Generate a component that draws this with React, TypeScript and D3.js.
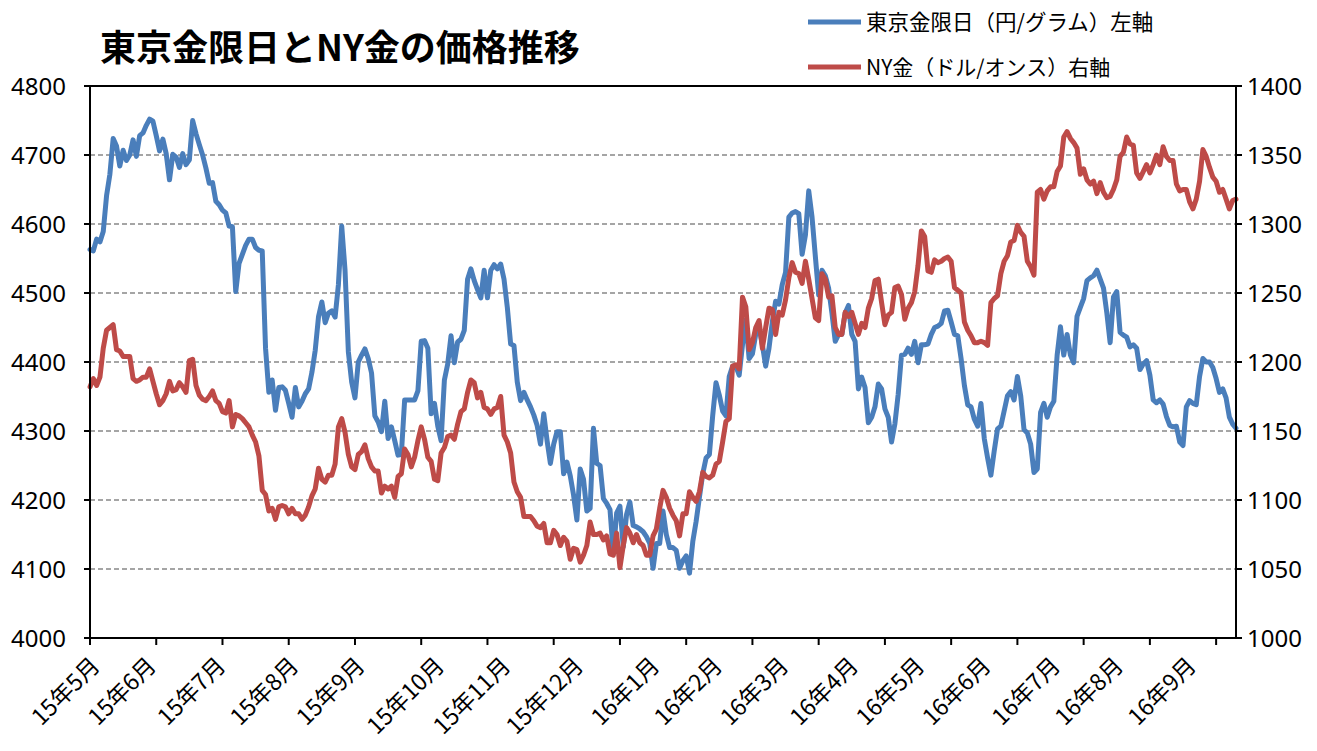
import * as d3 from "d3";

// 月ラベル（各月の最初の営業日のインデックス）
const monthLabels = [
  "15年5月", "15年6月", "15年7月", "15年8月", "15年9月", "15年10月", "15年11月", "15年12月",
  "16年1月", "16年2月", "16年3月", "16年4月", "16年5月", "16年6月", "16年7月", "16年8月", "16年9月",
];
const monthStartIdx = [0, 17, 38, 60, 80, 104, 124, 146, 169, 188, 208, 229, 249, 269, 290, 309, 331];

// 東京金限日（円/グラム） daily
const tokyoGold = [
  4563, 4561, 4578, 4574, 4589, 4641, 4672, 4724, 4713, 4684, 4707, 4692, 4700, 4722, 4698, 4728, 4732, 4743, 4752, 4749,
  4728, 4706, 4723, 4702, 4664, 4701, 4697, 4682, 4702, 4686, 4693, 4750, 4731, 4715, 4700, 4681, 4659, 4660, 4633, 4628,
  4620, 4616, 4597, 4596, 4502, 4543, 4556, 4569, 4578, 4578, 4566, 4562, 4561, 4420, 4356, 4374, 4330, 4363, 4364,
  4359, 4340, 4320, 4363, 4335, 4343, 4354, 4361, 4385, 4417, 4466, 4487, 4457, 4471, 4474, 4465, 4512, 4597, 4533, 4415, 4371,
  4348, 4400, 4410, 4419, 4405, 4384, 4322, 4313, 4299, 4343, 4289, 4306, 4286, 4265, 4266, 4345, 4345, 4345, 4345, 4358,
  4430, 4431, 4420, 4325, 4340, 4307, 4286, 4374, 4397, 4438, 4399, 4429, 4433, 4446, 4520, 4535, 4518,
  4505, 4493, 4533, 4493, 4533, 4541, 4535, 4542, 4520, 4479, 4426, 4424, 4371, 4344, 4356, 4345, 4335, 4323, 4308, 4281, 4325, 4286, 4253,
  4281, 4299, 4299, 4238, 4255, 4235, 4207, 4171, 4245, 4230, 4184, 4188, 4304, 4253, 4250, 4202, 4195, 4186, 4122, 4181,
  4191, 4132, 4179, 4197, 4163, 4161, 4158, 4154, 4147, 4137, 4101, 4137, 4137,
  4184, 4150,
  4131, 4131, 4127, 4101, 4112, 4119, 4094, 4140, 4169, 4204, 4238, 4261, 4266, 4322, 4370, 4352, 4329, 4322, 4379, 4394,
  4394, 4381, 4425, 4461, 4405,
  4412, 4440, 4451, 4425, 4394, 4420, 4458, 4488, 4484, 4512, 4530, 4610, 4616, 4618, 4615, 4556, 4584, 4648, 4610, 4553,
  4497, 4533, 4525, 4507, 4471, 4430, 4440, 4440, 4471, 4482, 4440, 4430, 4361,
  4378, 4363, 4312, 4320, 4335, 4368, 4361, 4332, 4320, 4284, 4310, 4353, 4410, 4411, 4420, 4411, 4430, 4399, 4425, 4425,
  4426, 4440, 4450, 4452, 4456, 4474, 4475, 4458,
  4440, 4438, 4405, 4366, 4338, 4335, 4317, 4307, 4340, 4289, 4261, 4236, 4271, 4303, 4307, 4329, 4351, 4357, 4345, 4379,
  4351, 4302, 4297, 4281, 4240, 4245, 4327, 4340, 4320, 4335,
  4343, 4410, 4451, 4410, 4440, 4410, 4399, 4466, 4479, 4492, 4518, 4522, 4525, 4533, 4520, 4507, 4471, 4428, 4494, 4502,
  4443, 4439, 4436, 4422, 4425, 4420, 4389, 4397, 4402, 4381, 4345, 4341, 4345, 4339, 4321, 4308, 4306, 4307, 4284, 4279,
  4335, 4344, 4340, 4338, 4379, 4405, 4400, 4400, 4392, 4376, 4356, 4361, 4348, 4320, 4310, 4304,
];

// NY金（ドル/オンス）
const nyGold = [
  1182, 1188, 1183, 1189, 1210, 1223, 1225, 1227, 1209, 1208, 1204, 1204, 1204, 1188, 1186, 1187, 1189, 1189, 1195, 1186,
  1177, 1169, 1172, 1177, 1186, 1179, 1180, 1185, 1182, 1178, 1201, 1202, 1183, 1176, 1173, 1172, 1175, 1179, 1172, 1170,
  1164, 1163, 1172, 1153, 1162, 1161, 1159, 1156, 1153, 1147, 1142, 1132, 1107, 1104, 1092, 1094, 1086, 1095, 1096,
  1095, 1090, 1094, 1090, 1090, 1086, 1089, 1095, 1103, 1108, 1123, 1115, 1113, 1118, 1118, 1126, 1153, 1159, 1149, 1133, 1124,
  1122, 1133, 1135, 1140, 1130, 1124, 1121, 1121, 1105, 1110, 1108, 1110, 1102, 1117, 1119, 1137, 1133, 1124, 1131, 1143,
  1153, 1144, 1131, 1128, 1115, 1114, 1134, 1138, 1146, 1147, 1144, 1155, 1164, 1166, 1178, 1187, 1185,
  1174, 1178, 1167, 1166, 1162, 1166, 1167, 1175, 1147, 1142, 1134, 1113, 1106, 1102, 1088, 1088, 1088, 1085, 1081, 1080, 1083, 1069, 1069,
  1078, 1075, 1067, 1073, 1070, 1057, 1065, 1064, 1055, 1060, 1067, 1084, 1075, 1075, 1076, 1071, 1074, 1061, 1060, 1076,
  1051, 1067, 1080, 1076, 1069, 1075, 1069, 1067, 1060, 1060, 1074, 1079, 1094,
  1107, 1102,
  1094, 1089, 1085, 1074, 1090, 1090, 1106, 1102, 1099, 1106, 1120, 1117, 1116, 1118, 1126, 1128, 1142, 1157, 1159, 1197,
  1198, 1195, 1247, 1240, 1209,
  1214, 1225, 1230, 1210, 1225, 1239, 1238, 1220, 1236, 1234, 1245, 1261, 1272, 1265, 1264, 1257, 1273, 1260, 1246, 1232,
  1230, 1264, 1260, 1247, 1248, 1225, 1220, 1220, 1236, 1233, 1236, 1228, 1220,
  1228, 1225, 1239, 1246, 1259, 1260, 1243, 1227, 1234, 1236, 1254, 1255, 1249, 1231, 1239, 1243, 1251, 1270, 1295, 1291,
  1266, 1265, 1274, 1272, 1273, 1275, 1276, 1273,
  1254, 1252, 1250, 1229, 1223, 1219, 1214, 1214, 1215, 1214, 1212, 1243, 1246, 1248, 1264, 1273, 1277, 1287, 1288, 1299,
  1294, 1291, 1273, 1269, 1263, 1323, 1325, 1318, 1324, 1327,
  1327, 1338, 1342, 1363, 1367, 1362, 1359, 1355, 1336, 1340, 1332, 1329, 1331, 1322, 1330, 1323, 1319, 1320, 1325, 1332,
  1349, 1352, 1363, 1358, 1357, 1337, 1333, 1338, 1343, 1337, 1343, 1350, 1343, 1356, 1349, 1346, 1346, 1329, 1324, 1325,
  1325, 1316, 1311, 1318, 1331, 1354, 1349, 1341, 1334, 1331, 1323, 1325, 1318, 1311, 1317, 1318,
];

const leftTicks = [4000, 4100, 4200, 4300, 4400, 4500, 4600, 4700, 4800];
const rightTicks = [1000, 1050, 1100, 1150, 1200, 1250, 1300, 1350, 1400];
const tickEvery = 20; // 目盛線の間隔（営業日）

const BLUE = "#4a7ebb";
const RED = "#be4b48";
const JP = "'Noto Sans CJK JP', 'Noto Sans', sans-serif";
const NUM = "'Noto Sans', sans-serif";

export default function App() {
  const width = 1317;
  const height = 751;
  const plot = { left: 90, right: 1236, top: 86, bottom: 638 };

  const n = tokyoGold.length;
  const x = d3.scaleLinear().domain([0, n - 1]).range([plot.left, plot.right]);
  const yL = d3.scaleLinear().domain([4000, 4800]).range([plot.bottom, plot.top]);
  const yR = d3.scaleLinear().domain([1000, 1400]).range([plot.bottom, plot.top]);

  const lineL = d3.line<number>().x((_, i) => x(i)).y(d => yL(d));
  const lineR = d3.line<number>().x((_, i) => x(i)).y(d => yR(d));

  const xTicks = d3.range(0, n, tickEvery);

  return (
    <svg width={width} height={height} style={{ position: "absolute", left: 0, top: 0, background: "#fff" }}>
      {/* title */}
      <text x={100} y={61} fontFamily={JP} fontWeight="bold" fontSize={36} fill="#000">
        東京金限日とNY金の価格推移
      </text>

      {/* legend */}
      <line x1={808} x2={861} y1={22} y2={22} stroke={BLUE} strokeWidth={5} />
      <text x={866} y={30} fontFamily={JP} fontSize={21.5} fill="#000">東京金限日（円/グラム）左軸</text>
      <line x1={808} x2={861} y1={67} y2={67} stroke={RED} strokeWidth={5} />
      <text x={866} y={75} fontFamily={JP} fontSize={21} fill="#000">NY金（ドル/オンス）右軸</text>

      {/* gridlines */}
      {leftTicks.slice(1, -1).map(t => (
        <line key={t} x1={plot.left} x2={plot.right} y1={yL(t)} y2={yL(t)}
          stroke="#888" strokeWidth={1.5} strokeDasharray="5,3" />
      ))}

      {/* series */}
      <path d={lineL(tokyoGold) || ""} fill="none" stroke={BLUE} strokeWidth={5} strokeLinejoin="round" strokeLinecap="round" />
      <path d={lineR(nyGold) || ""} fill="none" stroke={RED} strokeWidth={5} strokeLinejoin="round" strokeLinecap="round" />

      {/* frame */}
      <rect x={plot.left} y={plot.top} width={plot.right - plot.left} height={plot.bottom - plot.top}
        fill="none" stroke="#000" strokeWidth={2} />

      {/* left axis */}
      {leftTicks.map(t => (
        <g key={t}>
          <line x1={plot.left - 6} x2={plot.left} y1={yL(t)} y2={yL(t)} stroke="#000" strokeWidth={2} />
          <text x={66} y={yL(t) + 8.5} textAnchor="end" fontFamily={NUM} fontSize={24} fill="#000">{t}</text>
        </g>
      ))}

      {/* right axis */}
      {rightTicks.map(t => (
        <g key={t}>
          <line x1={plot.right} x2={plot.right + 6} y1={yR(t)} y2={yR(t)} stroke="#000" strokeWidth={2} />
          <text x={1247} y={yR(t) + 8.5} fontFamily={NUM} fontSize={24} fill="#000">{t}</text>
        </g>
      ))}

      {/* x axis ticks */}
      {xTicks.map(i => (
        <line key={i} x1={x(i)} x2={x(i)} y1={plot.bottom} y2={plot.bottom + 7} stroke="#000" strokeWidth={2} />
      ))}
      {monthLabels.map((lab, k) => {
        const px = x(monthStartIdx[k]) - 1;
        const py = plot.bottom + 17;
        return (
          <text key={lab} transform={`translate(${px},${py}) rotate(-45)`} textAnchor="end"
            dy="0.75em" fontFamily={JP} fontSize={23} fill="#000">{lab}</text>
        );
      })}
    </svg>
  );
}
